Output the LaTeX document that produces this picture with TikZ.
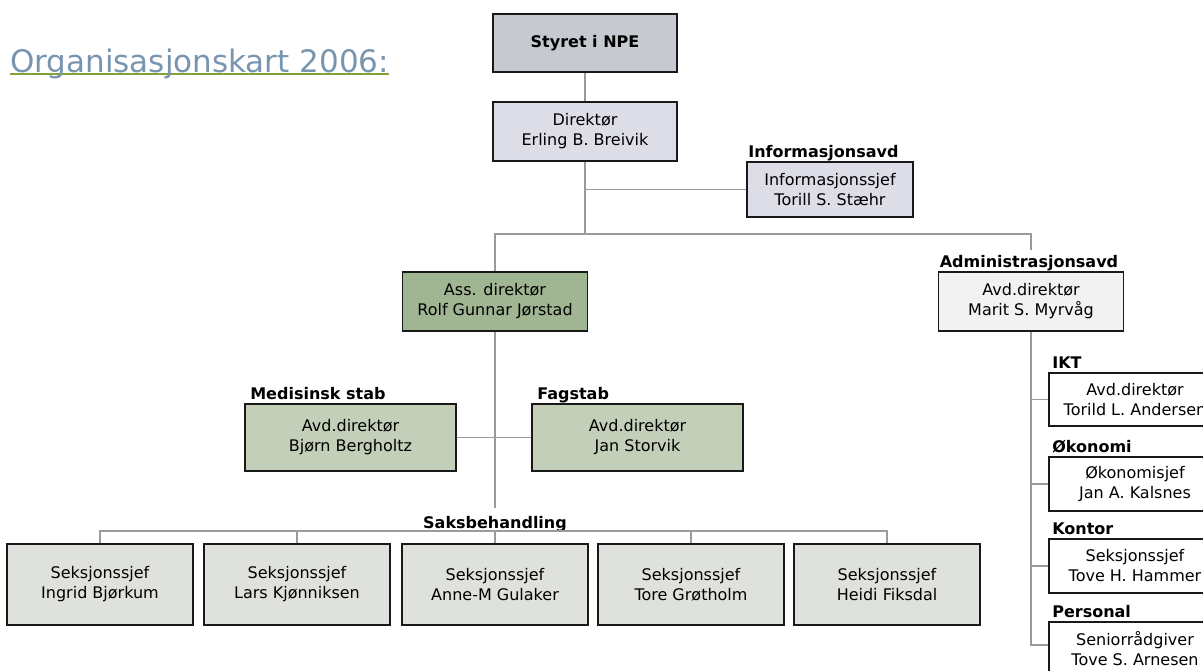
\documentclass[tikz,border=0pt]{standalone}
\usepackage{fontspec}
\setmainfont{DejaVu Sans}
\usetikzlibrary{positioning,backgrounds}
\definecolor{titleblue}{HTML}{7895B0}
\definecolor{titlegreen}{HTML}{7FA23A}
\definecolor{linegray}{HTML}{9A9A9A}
\definecolor{boardfill}{HTML}{C6C9D0}
\definecolor{dirfill}{HTML}{DCDDE6}
\definecolor{assfill}{HTML}{A0B592}
\definecolor{stabfill}{HTML}{C3CFB9}
\definecolor{sekfill}{HTML}{DFE2DC}
\definecolor{admfill}{HTML}{F2F2F2}

\begin{document}
\begin{tikzpicture}[x=1pt,y=-1pt,
            unit/.style={
                draw=black!90,
                line width=1.8pt,
                align=center,
                inner sep=0pt,
                font=\fontsize{16}{20}\selectfont
            },
            sz/.style 2 args={minimum width=#1pt,minimum height=#2pt},
            lbl/.style={anchor=base west,inner sep=0pt,font=\fontsize{16}{20}\selectfont\bfseries},
            conn/.style={draw=linegray,line width=1.3pt}]
            \useasboundingbox (0,0) rectangle (1203,670);
            \node[anchor=base west,inner sep=0pt,text=titleblue,font=\fontsize{31}{36}\selectfont] (title) at (10,72) {Organisasjonskart 2006:};
            \begin{scope}[on background layer]
                \draw[titlegreen,line width=1.3pt] ([yshift=-2pt]title.base west) -- ([yshift=-2pt]title.base east);
            \end{scope}

            \node[unit,sz={184}{58},fill=boardfill,font=\fontsize{16}{20}\selectfont\bfseries] (styret) at (585,43) {Styret i NPE};
            \node[unit,sz={184}{59},fill=dirfill] (dir) at (585,131.5) {Direktør\\Erling B. Breivik};
            \node[unit,sz={166}{55},fill=dirfill] (info) at (830,189.5) {Informasjonssjef\\Torill S. Stæhr};
            \node[lbl] (infolbl) at ([xshift=2pt,yshift=4pt]info.north west) {Informasjonsavd};

            \node[unit,sz={185}{59},fill=assfill] (ass) at (495,301.5) {Ass. direktør\\Rolf Gunnar Jørstad};
            \node[unit,sz={185}{59},fill=admfill] (admin) at (1031,301.5) {Avd.direktør\\Marit S. Myrvåg};
            \node[lbl] (adminlbl) at ([xshift=2pt,yshift=4pt]admin.north west) {Administrasjonsavd};

            \node[unit,sz={211}{67},fill=stabfill] (med) at (350.5,437.5) {Avd.direktør\\Bjørn Bergholtz};
            \node[lbl] (medlbl) at ([xshift=6pt,yshift=4pt]med.north west) {Medisinsk stab};
            \node[unit,sz={211}{67},fill=stabfill] (fag) at (637.5,437.5) {Avd.direktør\\Jan Storvik};
            \node[lbl] (faglbl) at ([xshift=6pt,yshift=4pt]fag.north west) {Fagstab};

            \node[lbl,anchor=base] (saks) at (495,528) {Saksbehandling};
            \node[unit,sz={186}{81},fill=sekfill] (sek1) at (100,584.5) {Seksjonssjef\\Ingrid Bjørkum};
            \node[unit,sz={186}{81},fill=sekfill] (sek2) at (297,584.5) {Seksjonssjef\\Lars Kjønniksen};
            \node[unit,sz={186}{81},fill=sekfill] (sek3) at (495,584.5) {Seksjonssjef\\Anne-M Gulaker};
            \node[unit,sz={186}{81},fill=sekfill] (sek4) at (691,584.5) {Seksjonssjef\\Tore Grøtholm};
            \node[unit,sz={186}{81},fill=sekfill] (sek5) at (887,584.5) {Seksjonssjef\\Heidi Fiksdal};

            \node[unit,sz={172}{53},fill=white] (ikt) at (1135,399.5) {Avd.direktør\\Torild L. Andersen};
            \node[lbl] (iktlbl) at ([xshift=4pt,yshift=4pt]ikt.north west) {IKT};
            \node[unit,sz={172}{54},fill=white] (oko) at (1135,484) {Økonomisjef\\Jan A. Kalsnes};
            \node[lbl] (okolbl) at ([xshift=4pt,yshift=4pt]oko.north west) {Økonomi};
            \node[unit,sz={172}{54},fill=white] (kon) at (1135,566) {Seksjonssjef\\Tove H. Hammer};
            \node[lbl] (konlbl) at ([xshift=4pt,yshift=4pt]kon.north west) {Kontor};
            \node[unit,sz={172}{54},fill=white] (pers) at (1135,649) {Seniorrådgiver\\Tove S. Arnesen};
            \node[lbl] (perslbl) at ([xshift=4pt,yshift=4pt]pers.north west) {Personal};

            \draw[conn] (styret.south) -- (dir.north);
            \coordinate (split) at ([yshift=-72pt]dir.south);
            \draw[conn] (dir.south) -- (split);
            \draw[conn] (info.west) -- (info.west -| dir.south);
            \draw[conn] (ass.north) |- (split) -| ([yshift=5pt]admin.north |- adminlbl.north);
            \draw[conn] (med.east) -- (fag.west);
            \draw[conn] (ass.south) -- ([yshift=8pt]saks.north);
            \draw[conn] (sek1.north) -- ++(0,-12) -| (sek5.north);
            \foreach \i in {2,3,4}
                \draw[conn] (sek\i.north) -- ++(0,-12);
            \draw[conn] (admin.south) |- ([yshift=4pt]pers.west);
            \foreach \n in {ikt,oko,kon}
                \draw[conn] (\n.west) -- (\n.west -| admin.south);
            \end{tikzpicture}
\end{document}
